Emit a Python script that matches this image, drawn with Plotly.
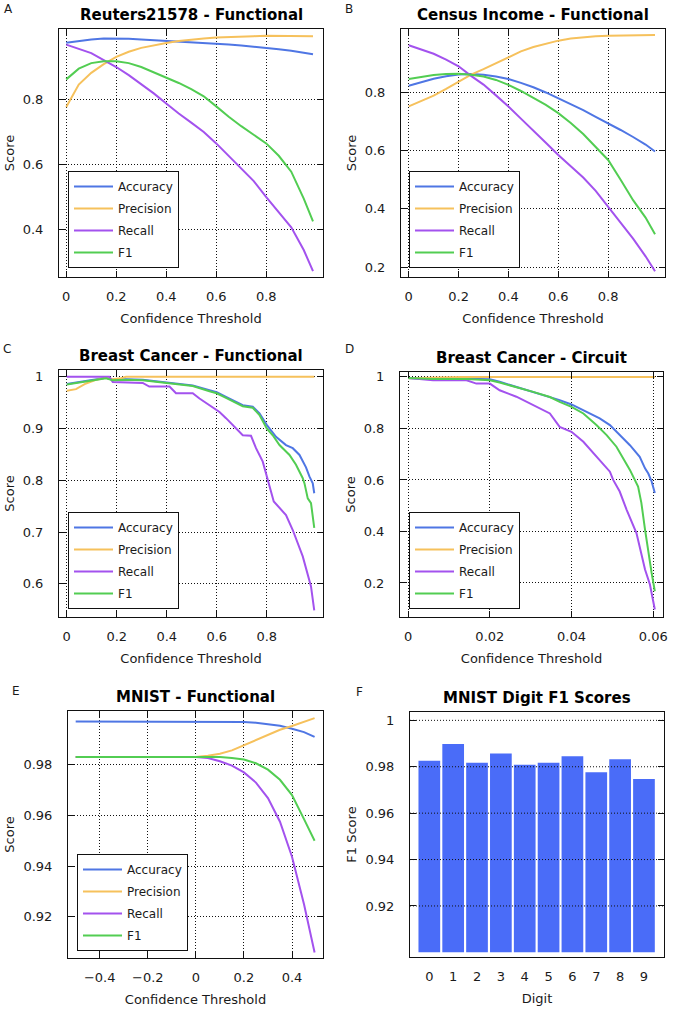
import plotly.graph_objects as go

W, H = 673, 1009

SERIES = ["Accuracy", "Precision", "Recall", "F1"]
COLORS = ["#4f76e4", "#f6c15c", "#a352ee", "#52cd52"]

# ---------------- Panel A: Reuters21578 - Functional ----------------
a_x = [0, 0.05, 0.1, 0.15, 0.2, 0.25, 0.3, 0.35, 0.4, 0.45, 0.5, 0.55, 0.6, 0.65,
       0.7, 0.75, 0.8, 0.85, 0.9, 0.95, 0.987]
a_acc = [0.975, 0.981, 0.985, 0.988, 0.988, 0.987, 0.985, 0.983, 0.981, 0.979, 0.977,
         0.975, 0.972, 0.969, 0.966, 0.963, 0.959, 0.955, 0.950, 0.945, 0.939]
a_prec = [0.777, 0.846, 0.882, 0.909, 0.931, 0.947, 0.959, 0.967, 0.974, 0.980, 0.985,
          0.988, 0.991, 0.993, 0.994, 0.995, 0.996, 0.996, 0.996, 0.996, 0.995]
a_rec = [0.969, 0.955, 0.943, 0.921, 0.900, 0.875, 0.848, 0.819, 0.788, 0.757, 0.729,
         0.700, 0.665, 0.627, 0.588, 0.549, 0.500, 0.455, 0.407, 0.337, 0.272]
a_f1 = [0.862, 0.895, 0.912, 0.918, 0.918, 0.912, 0.900, 0.884, 0.868, 0.851, 0.832,
        0.810, 0.779, 0.747, 0.718, 0.691, 0.665, 0.627, 0.578, 0.495, 0.425]

# ---------------- Panel B: Census Income - Functional ----------------
b_x = [0, 0.05, 0.1, 0.15, 0.2, 0.25, 0.3, 0.35, 0.4, 0.45, 0.5, 0.55, 0.6, 0.65,
       0.7, 0.75, 0.8, 0.85, 0.9, 0.95, 0.988]
b_acc = [0.823, 0.836, 0.847, 0.856, 0.862, 0.863, 0.861, 0.855, 0.846, 0.833, 0.818,
         0.800, 0.780, 0.759, 0.739, 0.716, 0.694, 0.671, 0.647, 0.621, 0.597]
b_prec = [0.752, 0.770, 0.789, 0.812, 0.838, 0.861, 0.880, 0.900, 0.922, 0.941, 0.956,
          0.968, 0.978, 0.985, 0.990, 0.993, 0.995, 0.996, 0.997, 0.997, 0.997]
b_rec = [0.962, 0.948, 0.933, 0.913, 0.890, 0.857, 0.827, 0.790, 0.752, 0.710, 0.670,
         0.627, 0.585, 0.546, 0.508, 0.462, 0.407, 0.350, 0.298, 0.237, 0.186]
b_f1 = [0.846, 0.853, 0.860, 0.863, 0.864, 0.861, 0.855, 0.843, 0.826, 0.805, 0.781,
        0.757, 0.729, 0.695, 0.657, 0.614, 0.568, 0.500, 0.430, 0.370, 0.313]

# ---------------- Panel C: Breast Cancer - Functional ----------------
c_acc_x = [0, 0.05, 0.104, 0.157, 0.184, 0.237, 0.304, 0.371, 0.437, 0.504, 0.571, 0.6,
           0.637, 0.677, 0.704, 0.744, 0.771, 0.8, 0.837, 0.877, 0.904, 0.931, 0.957,
           0.971, 0.984, 0.99]
c_acc = [0.986, 0.990, 0.995, 0.998, 0.994, 0.995, 0.994, 0.990, 0.987, 0.983, 0.974, 0.970,
         0.961, 0.952, 0.945, 0.942, 0.929, 0.907, 0.884, 0.868, 0.862, 0.849, 0.825,
         0.807, 0.794, 0.775]
c_prec_x = [0, 0.037, 0.077, 0.117, 0.157, 0.184, 0.217, 0.237, 0.5, 0.99]
c_prec = [0.973, 0.976, 0.987, 0.994, 0.998, 0.995, 0.997, 1.0, 1.0, 1.0]
c_rec_x = [0, 0.17, 0.184, 0.304, 0.33, 0.411, 0.437, 0.504, 0.531, 0.571, 0.611, 0.637,
           0.677, 0.704, 0.737, 0.757, 0.784, 0.804, 0.828, 0.877, 0.904, 0.944, 0.964,
           0.977, 0.99]
c_rec = [1.0, 1.0, 0.990, 0.988, 0.981, 0.981, 0.968, 0.968, 0.958, 0.945, 0.932, 0.920,
         0.900, 0.887, 0.886, 0.862, 0.836, 0.800, 0.759, 0.733, 0.704, 0.653, 0.617,
         0.595, 0.549]
c_f1_x = [0, 0.05, 0.104, 0.157, 0.184, 0.237, 0.304, 0.371, 0.437, 0.504, 0.571, 0.6,
          0.637, 0.677, 0.704, 0.744, 0.771, 0.8, 0.824, 0.851, 0.891, 0.917, 0.944,
          0.951, 0.964, 0.977, 0.99]
c_f1 = [0.985, 0.989, 0.994, 0.997, 0.993, 0.994, 0.993, 0.989, 0.986, 0.982, 0.972, 0.968,
        0.959, 0.950, 0.943, 0.940, 0.926, 0.900, 0.887, 0.868, 0.849, 0.830, 0.804,
        0.794, 0.765, 0.756, 0.708]

# ---------------- Panel D: Breast Cancer - Circuit ----------------
d_acc_x = [0, 0.0045, 0.0061, 0.0143, 0.02, 0.0224, 0.0265, 0.0306, 0.0347, 0.0371, 0.04,
           0.0429, 0.0469, 0.0494, 0.0518, 0.0543, 0.0567, 0.058, 0.0588, 0.0596, 0.0604]
d_acc = [0.996, 0.994, 0.991, 0.993, 0.991, 0.981, 0.961, 0.942, 0.923, 0.910, 0.893,
         0.871, 0.839, 0.813, 0.774, 0.735, 0.690, 0.645, 0.625, 0.595, 0.549]
d_prec_x = [0, 0.005, 0.013, 0.03, 0.0604]
d_prec = [0.995, 0.996, 1.0, 1.0, 1.0]
d_rec_x = [0, 0.0061, 0.0143, 0.0167, 0.02, 0.0224, 0.0265, 0.0306, 0.0347, 0.0371, 0.04,
           0.0429, 0.0469, 0.0494, 0.0502, 0.0518, 0.0535, 0.0559, 0.058, 0.0592, 0.0604]
d_rec = [0.996, 0.987, 0.987, 0.974, 0.974, 0.948, 0.923, 0.890, 0.858, 0.806, 0.787,
         0.748, 0.677, 0.632, 0.600, 0.555, 0.484, 0.394, 0.252, 0.194, 0.097]
d_f1_x = [0, 0.0061, 0.0143, 0.02, 0.0224, 0.0265, 0.0306, 0.0347, 0.0371, 0.04, 0.0429,
          0.0461, 0.0486, 0.051, 0.0543, 0.0563, 0.0571, 0.058, 0.0588, 0.0596, 0.0604]
d_f1 = [0.996, 0.992, 0.992, 0.987, 0.978, 0.961, 0.942, 0.922, 0.903, 0.884, 0.858,
        0.813, 0.774, 0.729, 0.639, 0.574, 0.511, 0.407, 0.317, 0.240, 0.168]

# ---------------- Panel E: MNIST - Functional ----------------
e_x = [-0.5, -0.4, -0.3, -0.2, -0.1, 0, 0.05, 0.1, 0.15, 0.2, 0.25, 0.3, 0.35, 0.4, 0.45, 0.494]
e_acc = [0.997, 0.997, 0.997, 0.997, 0.997, 0.997, 0.997, 0.997, 0.997, 0.9968, 0.9965,
         0.9960, 0.9953, 0.9941, 0.9928, 0.9909]
e_prec = [0.983, 0.983, 0.983, 0.983, 0.983, 0.983, 0.9835, 0.9843, 0.9856, 0.9876, 0.9896,
          0.9918, 0.9937, 0.9952, 0.9967, 0.9983]
e_rec = [0.983, 0.983, 0.983, 0.983, 0.983, 0.983, 0.9826, 0.9813, 0.9796, 0.9769, 0.9729,
         0.9668, 0.9575, 0.9437, 0.9250, 0.906]
e_f1 = [0.983, 0.983, 0.983, 0.983, 0.983, 0.983, 0.983, 0.983, 0.9826, 0.982, 0.9805,
        0.978, 0.974, 0.968, 0.9585, 0.950]

# ---------------- Panel F: MNIST Digit F1 Scores ----------------
f_digits = ["0", "1", "2", "3", "4", "5", "6", "7", "8", "9"]
f_scores = [0.9826, 0.9898, 0.9817, 0.9857, 0.9809, 0.9817, 0.9845, 0.9776, 0.9832, 0.9747]
f_base = 0.9

FONT = "DejaVu Sans"
TXT = "#1a1a1a"


def dom(x0, x1, y0, y1):
    return [x0 / W, x1 / W], [1 - y1 / H, 1 - y0 / H]


# panel pixel boxes: left, right, top, bottom
panels = [
    dict(box=(59, 323, 29, 277), title="Reuters21578 - Functional", letter="A", lpos=(8, 9),
         xr=[-0.029, 1.027], yr=[0.254, 1.017], xt=[0, 0.2, 0.4, 0.6, 0.8],
         xtt=["0", "0.2", "0.4", "0.6", "0.8"], yt=[0.4, 0.6, 0.8], ytt=["0.4", "0.6", "0.8"],
         xtitle="Confidence Threshold", ytitle="Score", leg=(68, 268)),
    dict(box=(401, 665, 29, 277), title="Census Income - Functional", letter="B", lpos=(349, 9),
         xr=[-0.031, 1.028], yr=[0.166, 1.018], xt=[0, 0.2, 0.4, 0.6, 0.8],
         xtt=["0", "0.2", "0.4", "0.6", "0.8"], yt=[0.2, 0.4, 0.6, 0.8],
         ytt=["0.2", "0.4", "0.6", "0.8"], xtitle="Confidence Threshold", ytitle="Score",
         leg=(409, 268)),
    dict(box=(59, 323, 370, 617), title="Breast Cancer - Functional", letter="C", lpos=(7, 349),
         xr=[-0.031, 1.025], yr=[0.536, 1.013], xt=[0, 0.2, 0.4, 0.6, 0.8],
         xtt=["0", "0.2", "0.4", "0.6", "0.8"], yt=[0.6, 0.7, 0.8, 0.9, 1.0],
         ytt=["0.6", "0.7", "0.8", "0.9", "1"], xtitle="Confidence Threshold", ytitle="Score",
         leg=(68, 609)),
    dict(box=(400, 663, 372, 617), title="Breast Cancer - Circuit", letter="D", lpos=(349, 349),
         xr=[-0.002, 0.0624], yr=[0.068, 1.019], xt=[0, 0.02, 0.04, 0.06],
         xtt=["0", "0.02", "0.04", "0.06"], yt=[0.2, 0.4, 0.6, 0.8, 1.0],
         ytt=["0.2", "0.4", "0.6", "0.8", "1"], xtitle="Confidence Threshold", ytitle="Score",
         leg=(409, 609)),
    dict(box=(68, 323, 711, 958), title="MNIST - Functional", letter="E", lpos=(16, 691),
         xr=[-0.532, 0.529], yr=[0.9038, 1.0011], xt=[-0.4, -0.2, 0, 0.2, 0.4],
         xtt=["\u22120.4", "\u22120.2", "0", "0.2", "0.4"], yt=[0.92, 0.94, 0.96, 0.98],
         ytt=["0.92", "0.94", "0.96", "0.98"], xtitle="Confidence Threshold", ytitle="Score",
         leg=(77, 951)),
    dict(box=(410, 664, 712, 957), title="MNIST Digit F1 Scores", letter="F", lpos=(359, 692),
         xr=[-0.81, 9.84], yr=[0.898, 1.0036], xt=list(range(10)), xtt=f_digits,
         yt=[0.92, 0.94, 0.96, 0.98, 1.0], ytt=["0.92", "0.94", "0.96", "0.98", "1"],
         xtitle="Digit", ytitle="F1 Score", leg=None),
]

line_data = [
    [(a_x, a_acc), (a_x, a_prec), (a_x, a_rec), (a_x, a_f1)],
    [(b_x, b_acc), (b_x, b_prec), (b_x, b_rec), (b_x, b_f1)],
    [(c_acc_x, c_acc), (c_prec_x, c_prec), (c_rec_x, c_rec), (c_f1_x, c_f1)],
    [(d_acc_x, d_acc), (d_prec_x, d_prec), (d_rec_x, d_rec), (d_f1_x, d_f1)],
    [(e_x, e_acc), (e_x, e_prec), (e_x, e_rec), (e_x, e_f1)],
]

fig = go.Figure()
layout = dict(
    width=W, height=H, margin=dict(l=0, r=0, t=0, b=0),
    paper_bgcolor="white", plot_bgcolor="white",
    font=dict(family=FONT, size=13, color=TXT),
    showlegend=True, bargap=0.09,
)
annotations = []
shapes = []

for i, p in enumerate(panels):
    n = i + 1
    sfx = "" if n == 1 else str(n)
    xd, yd = dom(*p["box"])
    common = dict(
        showline=True, linecolor="#111", linewidth=1, mirror="ticks",
        ticks="inside", ticklen=6, tickcolor="#111", tickwidth=1,
        showgrid=True, gridcolor="#111", gridwidth=1, griddash="1px,2px",
        zeroline=False, tickfont=dict(size=13, family=FONT, color=TXT),
        automargin=False,
    )
    xa = dict(common, domain=xd, range=p["xr"], anchor="y" + sfx,
              tickmode="array", tickvals=p["xt"], ticktext=p["xtt"], ticklabelstandoff=7,
              title=dict(text=p["xtitle"], standoff=11, font=dict(size=13, family=FONT)))
    ya = dict(common, domain=yd, range=p["yr"], anchor="x" + sfx,
              tickmode="array", tickvals=p["yt"], ticktext=p["ytt"], ticklabelstandoff=12,
              title=dict(text=p["ytitle"], standoff=5, font=dict(size=13, family=FONT)))
    if n == 6:
        xa["showgrid"] = False
        xa["ticks"] = ""
        xa["mirror"] = True
        ya["showgrid"] = False
    layout["xaxis" + sfx] = xa
    layout["yaxis" + sfx] = ya

    cx = (p["box"][0] + p["box"][1]) / 2
    ty = p["box"][2] - 14
    annotations.append(dict(text="<b>" + p["title"] + "</b>", x=cx / W, y=1 - ty / H,
                            xref="paper", yref="paper", xanchor="center", yanchor="middle",
                            showarrow=False, font=dict(size=15, family=FONT, color="#000")))
    annotations.append(dict(text=p["letter"], x=p["lpos"][0] / W, y=1 - p["lpos"][1] / H,
                            xref="paper", yref="paper", xanchor="center", yanchor="middle",
                            showarrow=False, font=dict(size=12, family=FONT, color=TXT)))

    if p["leg"] is not None:
        lname = "legend" if n == 1 else "legend" + str(n)
        layout[lname] = dict(
            x=p["leg"][0] / W, y=1 - p["leg"][1] / H, xanchor="left", yanchor="bottom",
            bgcolor="white", bordercolor="#111", borderwidth=1,
            font=dict(size=12, family=FONT, color=TXT),
            traceorder="grouped", tracegroupgap=3, itemwidth=39,
        )
        for s, (name, col) in enumerate(zip(SERIES, COLORS)):
            xs, ys = line_data[i][s]
            fig.add_trace(go.Scatter(
                x=xs, y=ys, mode="lines", name=name, line=dict(color=col, width=2),
                xaxis="x" + sfx, yaxis="y" + sfx, legend=lname,
                legendgroup=lname + name,
            ))

# bars for panel F
fig.add_trace(go.Bar(
    x=list(range(10)), y=[v - f_base for v in f_scores], base=f_base,
    marker=dict(color="#4a6cf8", line=dict(width=0)), xaxis="x6", yaxis="y6",
    showlegend=False, name="F1 Score",
))
for v in panels[5]["yt"]:
    shapes.append(dict(type="line", xref="x6 domain", yref="y6", x0=0, x1=1, y0=v, y1=v,
                       line=dict(color="#111", width=1, dash="1px,2px"), layer="above"))

layout["annotations"] = annotations
layout["shapes"] = shapes
fig.update_layout(**layout)
fig.write_html("out.html", config={"displayModeBar": False},
               post_script="document.body.style.margin='0px';")
